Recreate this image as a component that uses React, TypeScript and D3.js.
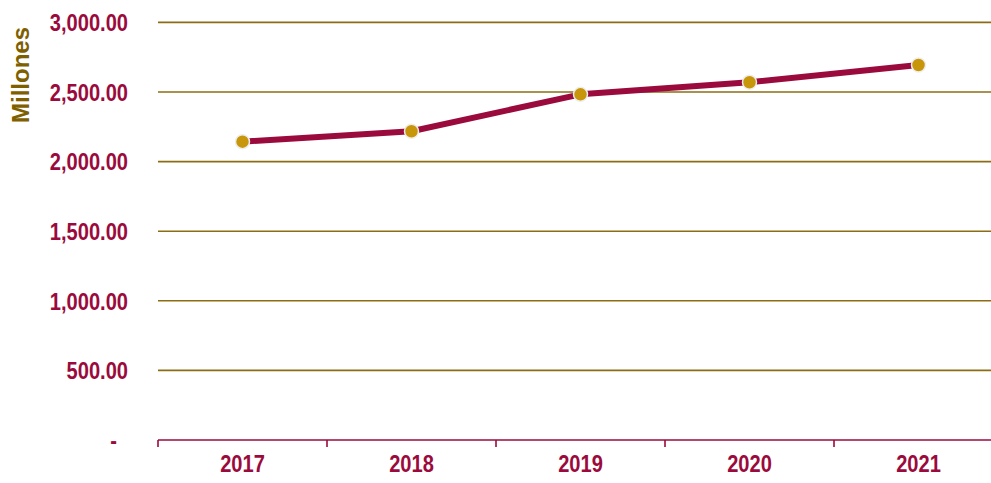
import React from "react";
import * as d3 from "d3";

const years = ["2017", "2018", "2019", "2020", "2021"];
const values = [2143, 2218, 2483, 2570, 2694];
const yTicks = [0, 500, 1000, 1500, 2000, 2500, 3000];

const W = 991;
const H = 483;
const CRIMSON = "#9B0A3C";
const GOLD_LINE = "#8C6D14";
const MARKER = "#C8960A";
const TITLE_GOLD = "#7F6000";
const SANS = "'Liberation Sans', Arial, sans-serif";
const NARROW_SCALE = 0.82;

function NarrowText(props: {
  x: number;
  y: number;
  anchor: "start" | "middle" | "end";
  children: React.ReactNode;
}) {
  return (
    <text
      transform={`translate(${props.x},${props.y}) scale(${NARROW_SCALE},1)`}
      dy="0.36em"
      textAnchor={props.anchor}
      fill={CRIMSON}
      fontFamily={SANS}
      fontWeight="bold"
      fontSize={24.5}
    >
      {props.children}
    </text>
  );
}

export default function App() {
  const left = 158;
  const step = 169;
  const x = d3
    .scaleBand<string>()
    .domain(years)
    .range([left, left + step * years.length])
    .paddingInner(0)
    .paddingOuter(0);
  const y = d3.scaleLinear().domain([0, 3000]).range([440, 22.4]);
  const fmt = d3.format(",.2f");
  const cx = (i: number) => (x(years[i]) as number) + x.bandwidth() / 2;

  const line = d3
    .line<number>()
    .x((_, i) => cx(i))
    .y((d) => y(d));

  return (
    <svg
      width={W}
      height={H}
      style={{ position: "absolute", left: 0, top: 0, background: "#fff" }}
    >
      {yTicks
        .filter((t) => t > 0)
        .map((t) => (
          <line
            key={"g" + t}
            x1={left}
            x2={W}
            y1={y(t)}
            y2={y(t)}
            stroke={GOLD_LINE}
            strokeWidth={1.6}
          />
        ))}
      {yTicks.map((t) => (
        <NarrowText key={"t" + t} x={t === 0 ? 117 : 128} y={y(t)} anchor="end">
          {t === 0 ? "-" : fmt(t)}
        </NarrowText>
      ))}
      <text
        transform={`translate(29, 75) rotate(-90)`}
        textAnchor="middle"
        fill={TITLE_GOLD}
        fontFamily={SANS}
        fontWeight="bold"
        fontSize={24}
      >
        Millones
      </text>
      <line x1={left} x2={W} y1={y(0)} y2={y(0)} stroke={CRIMSON} strokeWidth={1.6} />
      {years.map((yr) => (
        <line
          key={"tk" + yr}
          x1={x(yr) as number}
          x2={x(yr) as number}
          y1={y(0)}
          y2={y(0) + 7}
          stroke={CRIMSON}
          strokeWidth={1.6}
        />
      ))}
      {years.map((yr, i) => (
        <NarrowText key={"xl" + yr} x={cx(i)} y={463} anchor="middle">
          {yr}
        </NarrowText>
      ))}
      <path
        d={line(values) || ""}
        fill="none"
        stroke={CRIMSON}
        strokeWidth={6}
        strokeLinejoin="round"
      />
      {values.map((v, i) => (
        <circle
          key={"c" + i}
          cx={cx(i)}
          cy={y(v)}
          r={7}
          fill={MARKER}
          stroke="#eeeeee"
          strokeWidth={1.5}
        />
      ))}
    </svg>
  );
}
